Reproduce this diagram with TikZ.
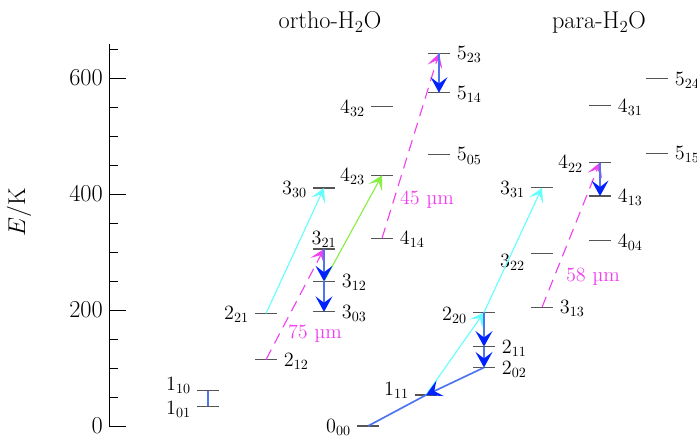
\documentclass[tikz,border=0pt]{standalone}
\usepackage{amsmath}
\usepackage{tikz}
\usetikzlibrary{arrows.meta}
\definecolor{cLevel}{HTML}{555555}
\definecolor{cCyan}{HTML}{66FFFF}
\definecolor{cMag}{HTML}{F040F0}
\definecolor{cGreen}{HTML}{88EE44}
\definecolor{cBlue}{HTML}{0022FF}
\definecolor{cBlueLn}{HTML}{4F74F0}
\tikzset{
  lvl/.style={draw=cLevel, line width=0.9pt},
  lab/.style={inner sep=0pt, font=\Large},
  labL/.style={lab, anchor=base east, xshift=-12pt, yshift=-4.6pt},
  labR/.style={lab, anchor=base west, xshift=12.5pt, yshift=-4.6pt},
  labA/.style={lab, anchor=south, yshift=1pt},
  ticklab/.style={inner sep=0pt, font=\LARGE, anchor=east},
  ttl/.style={inner sep=0pt, font=\LARGE, anchor=base},
  wl/.style={inner sep=0pt, font=\Large, text=cMag},
  tipthin/.style={-{Stealth[length=10pt, width=11pt, inset=5pt]}},
  decay/.style={-{Stealth[length=11pt, width=12pt, inset=4.5pt, color=cBlue]},
                cBlueLn, line width=1.2pt},
  coll/.style={tipthin, cCyan, line width=0.8pt},
  collg/.style={tipthin, cGreen, line width=0.8pt},
  pump/.style={tipthin, cMag, line width=0.8pt, dash pattern=on 8pt off 5pt},
}
% level: name, x (px), E (K), label, label style
\newcommand{\lvl}[5]{%
  \draw[lvl] ({#2-11},#3) -- ({#2+11},#3);
  \coordinate (#1) at (#2,#3);
  \node[#5] (#1l) at (#1) {$#4$};
}

\begin{document}
\begin{tikzpicture}[x=0.025cm, y=0.0145cm]
    \useasboundingbox (0,-19) rectangle (697,734.5);

    % energy axis
    \draw[line width=0.7pt] (109,0) -- (109,659);
    \foreach \e in {50,100,150,250,300,350,450,500,550,650}
      \draw[line width=0.7pt] (109,\e) -- (118,\e);
    \foreach \e in {0,200,400,600} {
      \draw[line width=0.7pt] (109,\e) -- (126,\e);
      \node[ticklab] (t\e) at (103,\e) {\e};
    }
    \node[font=\LARGE, rotate=90] (ax) at (19,369) {$E/\mathrm{K}$};

    \node[ttl] (ortho) at (330,684.5) {ortho-H$_2$O};
    \node[ttl] (para) at (599,684.5) {para-H$_2$O};

    % ortho levels
    \lvl{o101}{208}{34.2}{1_{01}}{labL, yshift=-1pt}
    \lvl{o110}{208}{61.0}{1_{10}}{labL, yshift=5pt}
    \lvl{o212}{266}{114.4}{2_{12}}{labR}
    \lvl{o221}{266}{194.1}{2_{21}}{labL}
    \lvl{o303}{324}{196.8}{3_{03}}{labR}
    \lvl{o312}{324}{249.4}{3_{12}}{labR}
    \lvl{o321}{324}{305.3}{3_{21}}{labA}
    \lvl{o330}{324}{410.4}{3_{30}}{labL}
    \lvl{o414}{382}{323.5}{4_{14}}{labR}
    \lvl{o423}{382}{432.2}{4_{23}}{labL}
    \lvl{o432}{382}{550.4}{4_{32}}{labL}
    \lvl{o505}{439}{468.1}{5_{05}}{labR}
    \lvl{o514}{439}{574.7}{5_{14}}{labR}
    \lvl{o523}{439}{642.4}{5_{23}}{labR}

    % para levels
    \lvl{p000}{368}{0}{0_{00}}{labL}
    \lvl{p111}{426}{53.4}{1_{11}}{labL, yshift=4pt}
    \lvl{p202}{484}{100.8}{2_{02}}{labR}
    \lvl{p211}{484}{136.9}{2_{11}}{labR}
    \lvl{p220}{484}{195.9}{2_{20}}{labL, yshift=-1.5pt}
    \lvl{p313}{542}{204.7}{3_{13}}{labR}
    \lvl{p322}{542}{296.8}{3_{22}}{labL, yshift=-5pt}
    \lvl{p331}{542}{410.7}{3_{31}}{labL}
    \lvl{p404}{600}{319.5}{4_{04}}{labR}
    \lvl{p413}{600}{396.4}{4_{13}}{labR}
    \lvl{p422}{600}{454.3}{4_{22}}{labL}
    \lvl{p431}{600}{552.3}{4_{31}}{labR}
    \lvl{p515}{657}{469.9}{5_{15}}{labR}
    \lvl{p524}{657}{598.8}{5_{24}}{labR}

    % ortho transitions
    \draw[cBlueLn, line width=1pt] (o110) -- (o101);
    \draw[coll] (o221) -- (o330);
    \draw[pump] (o212) -- (o321);
    \node[wl] (w75) at (315,158.6) {75 µm};
    \draw[collg] (o312) -- (o423);
    \draw[decay] (o321) -- (o312);
    \draw[decay] (o312) -- (o303);
    \draw[pump] (o414) -- (o523);
    \node[wl] (w45) at (427,390) {45 µm};
    \draw[decay] (o523) -- (o514);

    % para transitions
    \draw[cBlueLn, line width=1.2pt] (p111) -- (p000);
    \draw[coll] (p111) -- (p220);
    \draw[decay] (p202) -- (p111);
    \draw[decay] (p220) -- (p211);
    \draw[decay] (p211) -- (p202);
    \draw[coll] (p220) -- (p331);
    \draw[pump] (p313) -- (p422);
    \node[wl] (w58) at (593,257) {58 µm};
    \draw[decay] (p422) -- (p413);
  \end{tikzpicture}
\end{document}
